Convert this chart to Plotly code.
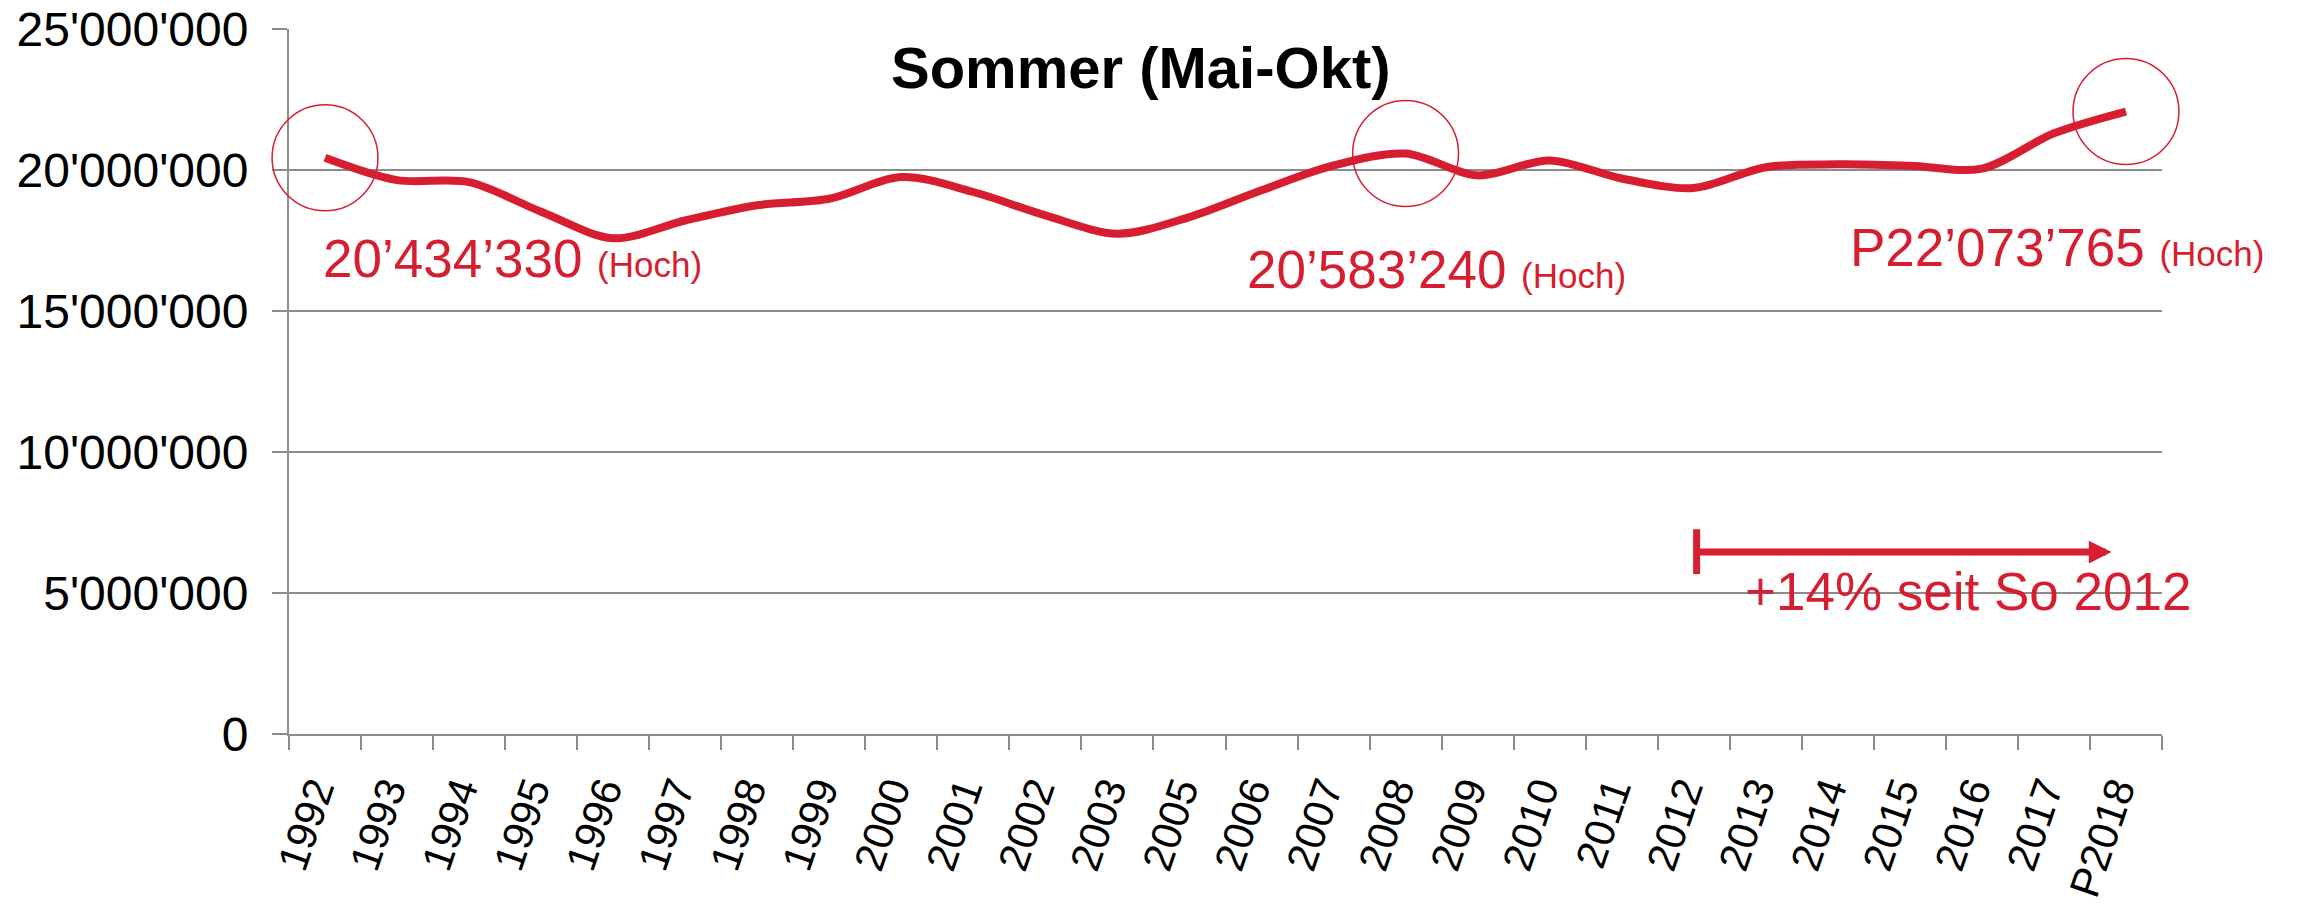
import plotly.graph_objects as go

# ---------------- data ----------------
years = ["1992", "1993", "1994", "1995", "1996", "1997", "1998", "1999", "2000",
         "2001", "2002", "2003", "2005", "2006", "2007", "2008", "2009", "2010",
         "2011", "2012", "2013", "2014", "2015", "2016", "2017", "P2018"]
visitors = [20434330, 19640000, 19570000, 18520000, 17580000, 18210000, 18750000,
            18980000, 19750000, 19220000, 18390000, 17740000, 18330000, 19280000,
            20160000, 20583240, 19810000, 20340000, 19700000, 19360000, 20100000,
            20200000, 20150000, 20050000, 21300000, 22073765]
y_tickvals = [0, 5000000, 10000000, 15000000, 20000000, 25000000]
y_ticktext = ["0", "5'000'000", "10'000'000", "15'000'000", "20'000'000", "25'000'000"]
highlight_years = ["1992", "2008", "P2018"]
highlight_labels = ["20’434’330", "20’583’240", "P22’073’765"]
title_text = "Sommer (Mai-Okt)"
growth_text = "+14% seit So 2012"
growth_from, growth_to = "2012", "P2018"

RED = "#D71E30"
GRID = "#8C8C8C"
FONT = "Liberation Sans, Arial, sans-serif"
YMAX = 25000000
N = len(years)

fig = go.Figure()
fig.add_trace(go.Scatter(
    x=years, y=visitors, mode="lines",
    line=dict(color=RED, width=8, shape="spline", smoothing=0.9),
    hoverinfo="skip", showlegend=False,
))

# circles around highlighted points (domain refs so they are not clipped)
rx, ry = 0.735, 1.88e6
for yr in highlight_years:
    i = years.index(yr)
    v = visitors[i]
    fig.add_shape(type="circle", xref="x domain", yref="y domain",
                  x0=(i + 0.5 - rx) / N, x1=(i + 0.5 + rx) / N,
                  y0=(v - ry) / YMAX, y1=(v + ry) / YMAX,
                  line=dict(color=RED, width=1.5))

# value labels
label_pos = {"1992": (-0.05, 16.87e6), "2008": (12.77, 16.48e6), "P2018": (21.14, 17.26e6)}
for yr, lab in zip(highlight_years, highlight_labels):
    lx, ly = label_pos[yr]
    fig.add_annotation(
        x=lx, y=ly, xref="x", yref="y", xanchor="left", yanchor="middle",
        text=f"{lab} <span style='font-size:35px'>(Hoch)</span>",
        showarrow=False, font=dict(family=FONT, size=53, color=RED),
    )

# growth arrow
i0 = years.index(growth_from)
i1 = years.index(growth_to)
arrow_y = 6.45e6
fig.add_shape(type="line", xref="x", yref="y", x0=i0 + 0.04, x1=i0 + 0.04,
              y0=5.67e6, y1=7.26e6, line=dict(color=RED, width=7))
fig.add_annotation(
    x=i1 - 0.2, y=arrow_y, ax=i0 + 0.04, ay=arrow_y,
    xref="x", yref="y", axref="x", ayref="y", text="",
    showarrow=True, arrowhead=2, arrowsize=0.65, arrowwidth=7,
    arrowcolor=RED, standoff=0, startstandoff=0,
)
fig.add_annotation(
    x=i0 + 0.69, y=5.07e6, xref="x", yref="y", xanchor="left", yanchor="middle",
    text=growth_text, showarrow=False, font=dict(family=FONT, size=53, color=RED),
)

# title
fig.add_annotation(
    x=0.455, y=0.9447, xref="paper", yref="paper", xanchor="center", yanchor="middle",
    text=f"<b>{title_text}</b>", showarrow=False,
    font=dict(family=FONT, size=58, color="black"),
)

fig.update_layout(
    width=2298, height=904,
    margin=dict(l=289, r=136, t=29, b=170, autoexpand=False),
    paper_bgcolor="white", plot_bgcolor="white",
    font=dict(family=FONT, color="black"),
    showlegend=False, hovermode=False,
)
fig.update_xaxes(
    type="category", categoryorder="array", categoryarray=years,
    range=[-0.5, N - 0.5],
    showgrid=False, showline=True, linecolor=GRID, linewidth=2,
    ticks="outside", tickson="boundaries", ticklen=14, tickwidth=2, tickcolor=GRID,
    tickangle=-71, tickfont=dict(family=FONT, size=42, color="black"),
    ticklabelstandoff=13, ticklabelshift=-10, ticklabeloverflow="allow",
    automargin=False,
)
fig.update_yaxes(
    range=[0, YMAX], tickvals=y_tickvals, ticktext=y_ticktext,
    showgrid=True, gridcolor=GRID, gridwidth=2,
    showline=True, linecolor=GRID, linewidth=2, zeroline=False,
    ticks="outside", ticklen=15, tickwidth=2, tickcolor=GRID,
    tickfont=dict(family=FONT, size=48, color="black"),
    ticklabelstandoff=14, ticklabeloverflow="allow", automargin=False,
)

fig.write_html("out.html", config={"displayModeBar": False, "staticPlot": True},
               post_script="document.body.style.margin='0';document.body.style.overflow='hidden';")
